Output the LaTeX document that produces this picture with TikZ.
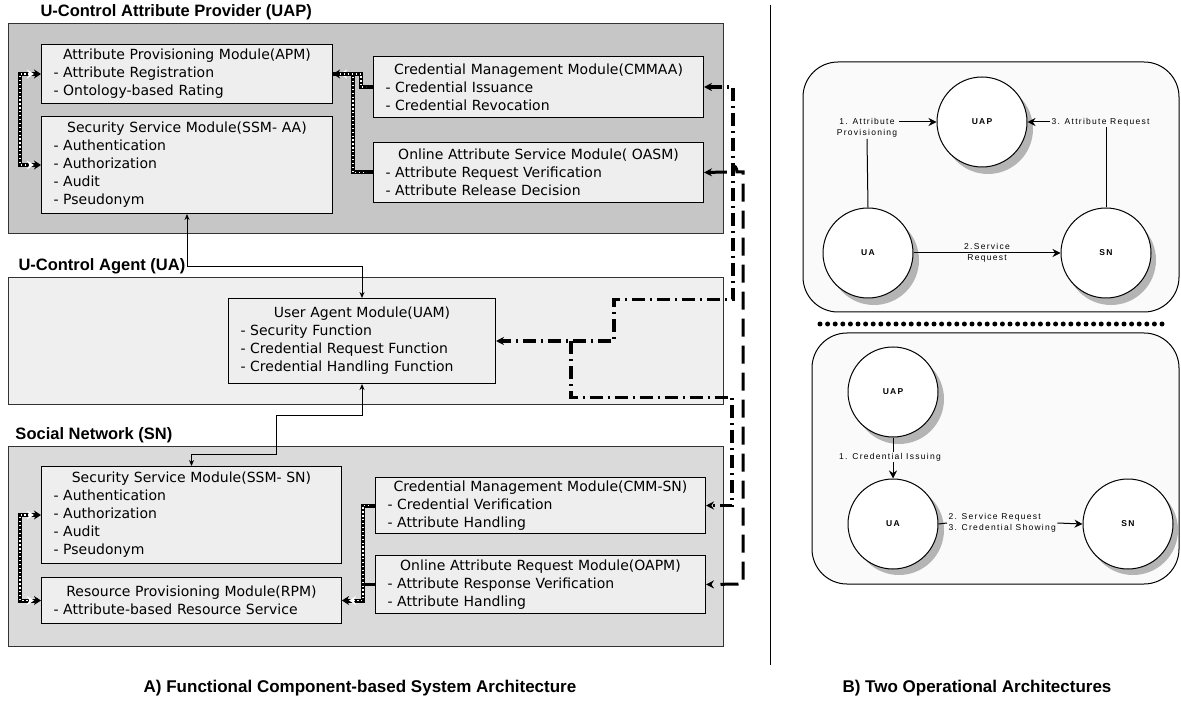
\documentclass[tikz,border=0pt]{standalone}
\usepackage{fontspec}
\setmainfont{DejaVu Sans}
\newfontfamily\headfont{Liberation Sans}
\newfontfamily\tagfont[LetterSpace=15]{Liberation Sans}
\usetikzlibrary{arrows.meta, positioning}

\definecolor{uapgray}{HTML}{C6C6C6}
\definecolor{sngray}{HTML}{DADADA}
\definecolor{uagray}{HTML}{EFEFEF}
\definecolor{modfill}{HTML}{EEEEEE}
\definecolor{roomfill}{HTML}{FAFAFA}
\definecolor{shadowgray}{HTML}{B4B4B4}

\begin{document}
\begin{tikzpicture}[x=1pt, y=-1pt, line width=1pt,
    areabox/.style = {draw=black!80, anchor=north west, inner sep=0pt},
    module/.style = {draw, fill=modfill, anchor=north west, inner xsep=12pt, inner ysep=1pt,
        align=left, font=\fontsize{14}{18}\selectfont},
    head/.style = {anchor=south west, inner sep=0pt, font=\headfont\bfseries\fontsize{16.5}{18}\selectfont},
    link/.style = {{Stealth[length=6pt,width=5pt]}-{Stealth[length=6pt,width=5pt]}},
    beads/.style = {line width=4pt, postaction={draw=white, line width=1.3pt,
        dash pattern=on 1.3pt off 2.6pt, shorten <=7pt, shorten >=7pt}},
    beadboth/.style = {{Stealth[length=7pt,width=9pt]}-{Stealth[length=7pt,width=9pt]}},
    beadstart/.style = {{Stealth[length=7pt,width=9pt]}-},
    dashdot/.style = {line width=3.5pt, dash pattern=on 13pt off 5pt on 2pt off 5pt},
    longdash/.style = {line width=3pt, dash pattern=on 18pt off 9pt},
    bothtips/.style = {{Stealth[length=8pt,width=8pt]}-{Stealth[length=8pt,width=8pt]}},
    endtip/.style = {-{Stealth[length=8pt,width=8pt]}},
    station/.style = {draw, circle, minimum size=90pt, inner sep=0pt, fill=white,
        font=\tagfont\bfseries\fontsize{8.5}{10}\selectfont},
    tag/.style = {inner sep=1pt, font=\tagfont\fontsize{8.5}{11}\selectfont},
    captext/.style = {font=\headfont\bfseries\fontsize{17}{20}\selectfont}
  ]
  \useasboundingbox (0,0) rectangle (1181,711);
  \fill[white] (0,0) rectangle (1181,711);

  % A) the three parties
  \node (uapbox) [areabox, fill=uapgray, minimum width=715pt, minimum height=210pt] at (8,23) {};
  \node (uabox)  [areabox, fill=uagray, minimum width=715pt, minimum height=127pt] at (8,277) {};
  \node (snbox)  [areabox, fill=sngray, minimum width=715pt, minimum height=200pt] at (8,446) {};
  \node (uaphead) [head] at (40,20) {U-Control  Attribute Provider (UAP)};
  \node (uahead)  [head] at (18,274) {U-Control Agent (UA)};
  \node (snhead)  [head] at (15,443) {Social Network  (SN)};

  % modules of the UAP
  \node (apm) [module, text width=267pt, minimum height=59pt] at (41,44)
    {\makebox[\linewidth]{Attribute Provisioning Module(APM)}\\ - Attribute Registration\\ - Ontology-based Rating};
  \node (ssmaa) [module, text width=267pt, minimum height=97pt] at (41,116)
    {\makebox[\linewidth]{Security Service Module(SSM- AA)}\\ - Authentication\\ - Authorization\\ - Audit\\ - Pseudonym};
  \node (cmmaa) [module, text width=306pt, minimum height=61pt] at (373,56)
    {\makebox[\linewidth]{Credential Management Module(CMMAA)}\\ - Credential Issuance\\ - Credential Revocation};
  \node (oasm) [module, text width=306pt, minimum height=60pt] at (373,142)
    {\makebox[\linewidth]{Online Attribute Service Module( OASM)}\\ - Attribute Request Verification\\ - Attribute Release Decision};

  % module of the UA
  \node (uam) [module, text width=243pt, minimum height=85pt] at (228,298)
    {\makebox[\linewidth]{User Agent Module(UAM)}\\ - Security Function\\ - Credential Request Function\\ - Credential Handling Function};

  % modules of the SN
  \node (ssmsn) [module, text width=276pt, minimum height=97pt] at (41,466)
    {\makebox[\linewidth]{Security Service Module(SSM- SN)}\\ - Authentication\\ - Authorization\\ - Audit\\ - Pseudonym};
  \node (rpm) [module, text width=276pt, minimum height=46pt] at (41,577)
    {\makebox[\linewidth]{Resource Provisioning Module(RPM)}\\ - Attribute-based Resource Service};
  \node (cmmsn) [module, text width=306pt, minimum height=56pt] at (375,477)
    {\makebox[\linewidth]{Credential Management Module(CMM-SN)}\\ - Credential Verification\\ - Attribute Handling};
  \node (oapm) [module, text width=306pt, minimum height=58pt] at (375,555)
    {\makebox[\linewidth]{Online Attribute Request Module(OAPM)}\\ - Attribute Response Verification\\ - Attribute Handling};

  % inner links
  \draw [beads, beadboth] (apm.west) -- ++(-21,0) |- (ssmaa.west);
  \draw [beads, beadstart] (apm.east) -- ++(20,0) |- (oasm.west);
  \draw [beads] (apm.east) -- ++(28,0) |- (cmmaa.west);
  \draw [beads, beadboth] (ssmsn.west) -- ++(-21,0) |- (rpm.west);
  \draw [beads, beadstart] (rpm.east) -- ++(21,0) |- (cmmsn.west);
  \draw [line width=3pt] (oapm.west) -- ++(-13,0);

  % links between the parties
  \draw [link] (ssmaa.south) -- ++(0,53) -| (uam.north);
  \draw [link] (uam.south) -- ++(0,31) -- ++(-86,0) -- ++(0,39) -| (ssmsn.north);
  \coordinate [right=75pt of uam.east] (fork);
  \draw [dashdot, bothtips] (cmmaa.east) -- ++(29,0) -- ++(0,212.5) -- ++(-119,0) |- (uam.east);
  \draw [dashdot, endtip] (fork) -- ++(0,56.5) -- ++(161,0) |- (cmmsn.east);
  \draw [longdash, bothtips] (oasm.east) -- (727,172) .. controls (727,163) and (737,163) .. (737,172)
    -- (743,172) -- (743,584) -- (oapm.east);

  \draw (770,5) -- (770,665);

  % B) two operational architectures
  \draw [fill=roomfill, rounded corners=35pt] (803,62) rectangle (1179,312);
  \draw [fill=roomfill, rounded corners=35pt] (812,333) rectangle (1179,584);
  \draw [line width=5pt, line cap=round, dash pattern=on 0pt off 7.6pt] (820,324) -- (1163,324);

  % shadows behind the circles
  \foreach \cx/\cy in {982/122, 868/253, 1105/253, 893/392, 893/523, 1127/523}
    \fill [shadowgray] (\cx+6,\cy+7) circle [radius=45];

  \node (uap1) [station] at (982,122) {UAP};
  \node (ua1)  [station] at (868,253) {UA};
  \node (sn1)  [station, right=147pt of ua1] {SN};
  \node (prov) [tag, align=center] at (867,128) {1. Attribute\\Provisioning};
  \node (req)  [tag, anchor=west] at (1050,122) {3. Attribute Request};
  \draw (ua1.north) -- (prov.south);
  \draw [endtip] (prov.east |- uap1.west) -- (uap1.west);
  \draw (sn1.north) -- (sn1.north |- req.south);
  \draw [endtip] (req.west) -- (uap1.east);
  \draw [endtip] (ua1.east) -- node [tag, align=center] {2.Service\\Request} (sn1.west);

  \node (uap2) [station] at (893,392) {UAP};
  \node (ua2)  [station, below=41pt of uap2] {UA};
  \node (sn2)  [station, right=144pt of ua2] {SN};
  \node (iss)  [tag] at (890,457) {1. Credential Issuing};
  \node (svc)  [tag, anchor=west, align=left] at (947,523) {2. Service Request\\3. Credential Showing};
  \draw (uap2.south) -- (uap2.south |- iss.north);
  \draw [endtip] (ua2.north |- iss.south) -- (ua2.north);
  \draw (ua2.east) -- (svc.west);
  \draw [endtip] (svc.east) -- (sn2.west);

  % captions
  \node (capa) [captext] at (360,688) {A) Functional Component-based System Architecture};
  \node (capb) [captext] at (977,688) {B) Two Operational Architectures};
\end{tikzpicture}
\end{document}
